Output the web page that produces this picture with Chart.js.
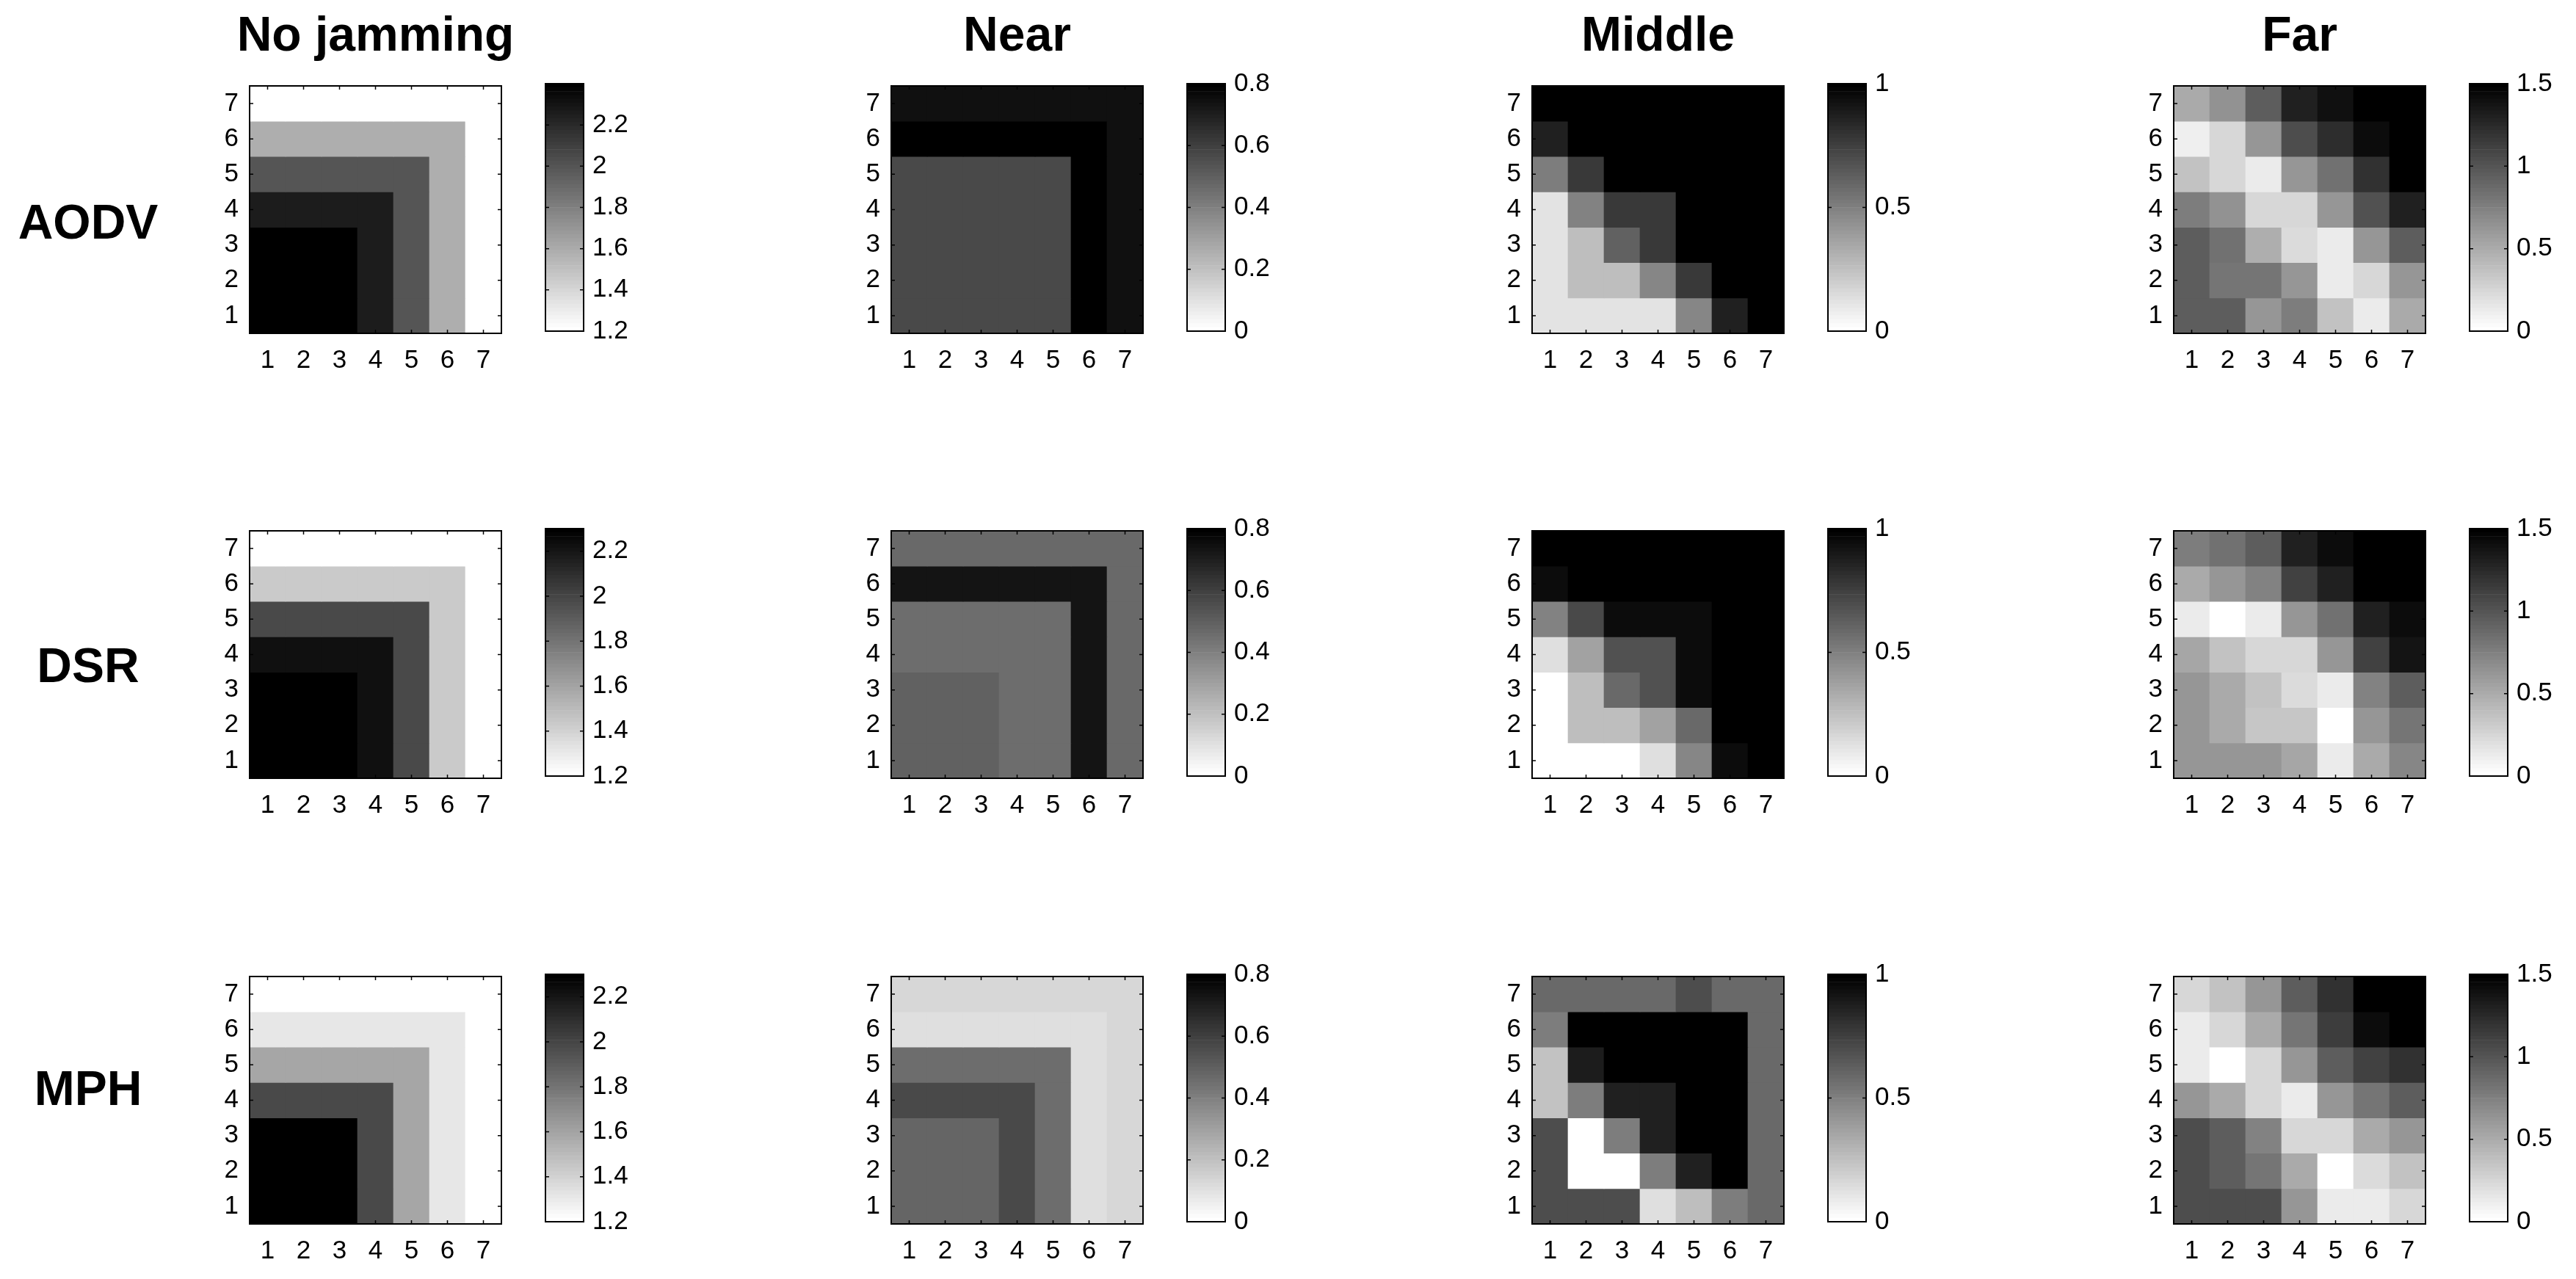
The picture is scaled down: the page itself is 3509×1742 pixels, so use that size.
<!DOCTYPE html>
<html>
<head>
<meta charset="utf-8">
<title>Jamming heatmaps</title>
<script src="https://cdn.jsdelivr.net/npm/chart.js@4.4.1/dist/chart.umd.min.js"></script>
<style>
  body { margin: 0; background: #fff; font-family: "Liberation Sans", Arial, sans-serif; }
  #page { position: relative; width: 3509px; height: 1742px; overflow: hidden; background: #fff; }
  canvas { position: absolute; }
  .title, .rowlabel { position: absolute; font-weight: bold; font-size: 66px; line-height: 1; color: #000; white-space: nowrap; }
  .title { transform: translateX(-50%); }
  .rowlabel { transform: translate(-50%, -50%); }
</style>
</head>
<body>
<div id="page"></div>
<script>
// labels
const columns = ['No jamming', 'Near', 'Middle', 'Far'];
const protocols = ['AODV', 'DSR', 'MPH'];
const cells = ['1', '2', '3', '4', '5', '6', '7'];
const yCells = [7, 6, 5, 4, 3, 2, 1]; // matrix rows below are listed top (7) to bottom (1)

// colorbar ticks per column
const noJamTicks = [1.2, 1.4, 1.6, 1.8, 2, 2.2];
const nearTicks = [0, 0.2, 0.4, 0.6, 0.8];
const middleTicks = [0, 0.5, 1];
const farTicks = [0, 0.5, 1, 1.5];

// colour limits [min, max]
const noJamLimits = [[1.2, 2.40], [1.2, 2.30], [1.2, 2.30]];
const nearLimits = [0, 0.8];
const middleLimits = [0, 1];
const farLimits = [0, 1.5];

// AODV
const aodvNoJam = [
    [1.20, 1.20, 1.20, 1.20, 1.20, 1.20, 1.20],
    [1.58, 1.58, 1.58, 1.58, 1.58, 1.58, 1.20],
    [2.00, 2.00, 2.00, 2.00, 2.00, 1.58, 1.20],
    [2.26, 2.26, 2.26, 2.26, 2.00, 1.58, 1.20],
    [2.40, 2.40, 2.40, 2.26, 2.00, 1.58, 1.20],
    [2.40, 2.40, 2.40, 2.26, 2.00, 1.58, 1.20],
    [2.40, 2.40, 2.40, 2.26, 2.00, 1.58, 1.20]
];
const aodvNear = [
    [0.74, 0.74, 0.74, 0.74, 0.74, 0.74, 0.74],
    [0.80, 0.80, 0.80, 0.80, 0.80, 0.80, 0.74],
    [0.57, 0.57, 0.57, 0.57, 0.57, 0.80, 0.74],
    [0.57, 0.57, 0.57, 0.57, 0.57, 0.80, 0.74],
    [0.57, 0.57, 0.57, 0.57, 0.57, 0.80, 0.74],
    [0.57, 0.57, 0.57, 0.57, 0.57, 0.80, 0.74],
    [0.57, 0.57, 0.57, 0.57, 0.57, 0.80, 0.74]
];
const aodvMiddle = [
    [1.00, 1.00, 1.00, 1.00, 1.00, 1.00, 1.00],
    [0.86, 1.00, 1.00, 1.00, 1.00, 1.00, 1.00],
    [0.50, 0.78, 1.00, 1.00, 1.00, 1.00, 1.00],
    [0.12, 0.49, 0.77, 0.77, 1.00, 1.00, 1.00],
    [0.12, 0.25, 0.61, 0.77, 1.00, 1.00, 1.00],
    [0.12, 0.25, 0.25, 0.48, 0.77, 1.00, 1.00],
    [0.12, 0.12, 0.12, 0.12, 0.48, 0.86, 1.00]
];
const aodvFar = [
    [0.51, 0.65, 0.96, 1.29, 1.39, 1.48, 1.48],
    [0.11, 0.24, 0.62, 1.04, 1.22, 1.42, 1.50],
    [0.37, 0.24, 0.12, 0.62, 0.84, 1.21, 1.50],
    [0.75, 0.65, 0.24, 0.24, 0.62, 1.03, 1.29],
    [0.96, 0.84, 0.49, 0.22, 0.12, 0.62, 0.94],
    [0.96, 0.82, 0.82, 0.62, 0.12, 0.24, 0.62],
    [0.96, 0.96, 0.62, 0.75, 0.37, 0.12, 0.51]
];

// DSR
const dsrNoJam = [
    [1.20, 1.20, 1.20, 1.20, 1.20, 1.20, 1.20],
    [1.44, 1.44, 1.44, 1.44, 1.44, 1.44, 1.20],
    [1.99, 1.99, 1.99, 1.99, 1.99, 1.44, 1.20],
    [2.22, 2.22, 2.22, 2.22, 1.99, 1.44, 1.20],
    [2.30, 2.30, 2.30, 2.22, 1.99, 1.44, 1.20],
    [2.30, 2.30, 2.30, 2.22, 1.99, 1.44, 1.20],
    [2.30, 2.30, 2.30, 2.22, 1.99, 1.44, 1.20]
];
const dsrNear = [
    [0.47, 0.47, 0.47, 0.47, 0.47, 0.47, 0.47],
    [0.73, 0.73, 0.73, 0.73, 0.73, 0.73, 0.47],
    [0.45, 0.45, 0.45, 0.45, 0.45, 0.73, 0.47],
    [0.45, 0.45, 0.45, 0.45, 0.45, 0.73, 0.47],
    [0.49, 0.49, 0.49, 0.45, 0.45, 0.73, 0.47],
    [0.49, 0.49, 0.49, 0.45, 0.45, 0.73, 0.47],
    [0.49, 0.49, 0.49, 0.45, 0.45, 0.73, 0.47]
];
const dsrMiddle = [
    [1.00, 1.00, 1.00, 1.00, 1.00, 1.00, 1.00],
    [0.94, 1.00, 1.00, 1.00, 1.00, 1.00, 1.00],
    [0.49, 0.71, 0.94, 0.94, 0.94, 1.00, 1.00],
    [0.13, 0.37, 0.68, 0.68, 0.94, 1.00, 1.00],
    [0.00, 0.25, 0.58, 0.68, 0.94, 1.00, 1.00],
    [0.00, 0.25, 0.25, 0.37, 0.59, 1.00, 1.00],
    [0.00, 0.00, 0.00, 0.13, 0.47, 0.94, 1.00]
];
const dsrFar = [
    [0.75, 0.84, 0.96, 1.29, 1.41, 1.50, 1.50],
    [0.50, 0.63, 0.74, 1.12, 1.29, 1.50, 1.50],
    [0.12, 0.00, 0.12, 0.62, 0.84, 1.29, 1.41],
    [0.53, 0.37, 0.24, 0.24, 0.62, 1.12, 1.37],
    [0.61, 0.51, 0.37, 0.22, 0.12, 0.74, 0.96],
    [0.61, 0.50, 0.35, 0.35, 0.00, 0.62, 0.81],
    [0.62, 0.62, 0.62, 0.53, 0.14, 0.50, 0.71]
];

// MPH
const mphNoJam = [
    [1.20, 1.20, 1.20, 1.20, 1.20, 1.20, 1.20],
    [1.32, 1.32, 1.32, 1.32, 1.32, 1.32, 1.20],
    [1.58, 1.58, 1.58, 1.58, 1.58, 1.32, 1.20],
    [1.99, 1.99, 1.99, 1.99, 1.58, 1.32, 1.20],
    [2.30, 2.30, 2.30, 1.99, 1.58, 1.32, 1.20],
    [2.30, 2.30, 2.30, 1.99, 1.58, 1.32, 1.20],
    [2.30, 2.30, 2.30, 1.99, 1.58, 1.32, 1.20]
];
const mphNear = [
    [0.13, 0.13, 0.13, 0.13, 0.13, 0.13, 0.13],
    [0.10, 0.10, 0.10, 0.10, 0.10, 0.10, 0.13],
    [0.46, 0.46, 0.46, 0.46, 0.46, 0.10, 0.13],
    [0.57, 0.57, 0.57, 0.57, 0.46, 0.10, 0.13],
    [0.48, 0.48, 0.48, 0.57, 0.46, 0.10, 0.13],
    [0.48, 0.48, 0.48, 0.57, 0.46, 0.10, 0.13],
    [0.48, 0.48, 0.48, 0.57, 0.46, 0.10, 0.13]
];
const mphMiddle = [
    [0.59, 0.59, 0.59, 0.59, 0.69, 0.59, 0.59],
    [0.51, 1.00, 1.00, 1.00, 1.00, 1.00, 0.59],
    [0.24, 0.88, 1.00, 1.00, 1.00, 1.00, 0.59],
    [0.24, 0.50, 0.86, 0.86, 1.00, 1.00, 0.59],
    [0.69, 0.00, 0.50, 0.86, 1.00, 1.00, 0.59],
    [0.69, 0.00, 0.00, 0.50, 0.86, 1.00, 0.59],
    [0.69, 0.69, 0.69, 0.13, 0.25, 0.50, 0.59]
];
const mphFar = [
    [0.24, 0.37, 0.62, 0.94, 1.21, 1.49, 1.49],
    [0.12, 0.24, 0.50, 0.81, 1.14, 1.41, 1.50],
    [0.12, 0.00, 0.24, 0.62, 0.94, 1.12, 1.21],
    [0.62, 0.51, 0.24, 0.12, 0.62, 0.81, 0.94],
    [1.04, 0.94, 0.74, 0.24, 0.24, 0.51, 0.62],
    [1.04, 0.94, 0.82, 0.51, 0.00, 0.22, 0.37],
    [1.04, 1.04, 1.04, 0.62, 0.12, 0.12, 0.24]
];

// layout (page pixels)
const colLeft = [340, 1214, 2087, 2961];
const rowTop = [111, 717, 1324];
const HM = 343;        // heatmap plot size
const CB_OFF = 403;    // colorbar left, relative to heatmap left
const CB_W = 52;
const tickFont = { family: '"Liberation Sans", Arial, sans-serif', size: 35 };

// flipped gray colormap, 64 levels like MATLAB
function grayFor(v, lo, hi) {
    let t = (v - lo) / (hi - lo);
    t = Math.min(1, Math.max(0, t));
    const idx = Math.min(63, Math.floor(t * 64));
    const g = Math.round(255 * (1 - idx / 63));
    return `rgb(${g},${g},${g})`;
}

// box with inward ticks on every side
const framePlugin = {
    id: 'frame',
    afterDraw(chart, args, opts) {
        const ctx = chart.ctx;
        const a = chart.chartArea;
        const len = 5;
        ctx.save();
        ctx.strokeStyle = '#000';
        ctx.lineWidth = 1.5;
        ctx.beginPath();
        if (opts.xTicks) {
            const xs = chart.scales.x;
            xs.ticks.forEach((t, i) => {
                const px = xs.getPixelForTick(i);
                ctx.moveTo(px, a.bottom); ctx.lineTo(px, a.bottom - len);
                ctx.moveTo(px, a.top); ctx.lineTo(px, a.top + len);
            });
        }
        const ys = chart.scales.y;
        ys.ticks.forEach(t => {
            const py = ys.getPixelForValue(t.value);
            ctx.moveTo(a.left, py); ctx.lineTo(a.left + len, py);
            ctx.moveTo(a.right, py); ctx.lineTo(a.right - len, py);
        });
        ctx.stroke();
        ctx.lineWidth = 2;
        ctx.strokeRect(a.left, a.top, a.right - a.left, a.bottom - a.top);
        ctx.restore();
    }
};

const page = document.getElementById('page');

function addCanvas(left, top, w, h) {
    const c = document.createElement('canvas');
    c.width = w; c.height = h;
    c.style.left = left + 'px';
    c.style.top = top + 'px';
    c.style.width = w + 'px';
    c.style.height = h + 'px';
    page.appendChild(c);
    return c;
}

function drawHeatmap(left, top, matrix, lo, hi) {
    const YW = 80, XH = 80, PAD = 30;
    const canvas = addCanvas(left - YW, top - PAD, YW + HM + PAD, PAD + HM + XH);
    const datasets = matrix.map((row, r) => {
        const yv = yCells[r];
        return {
            data: row.map(() => [yv - 0.5, yv + 0.5]),
            backgroundColor: row.map(v => grayFor(v, lo, hi)),
            borderWidth: 0,
            barPercentage: 1,
            categoryPercentage: 1,
            grouped: false
        };
    });
    new Chart(canvas, {
        type: 'bar',
        data: { labels: cells, datasets: datasets },
        options: {
            responsive: false,
            animation: false,
            layout: { padding: { top: PAD, right: PAD, left: 0, bottom: 0 } },
            plugins: { legend: { display: false }, tooltip: { enabled: false }, frame: { xTicks: true } },
            scales: {
                x: {
                    grid: { display: false, drawTicks: false },
                    border: { display: false },
                    ticks: { font: tickFont, color: '#000', padding: 16, maxRotation: 0, autoSkip: false },
                    afterFit: s => { s.height = XH; }
                },
                y: {
                    type: 'linear',
                    min: 0.5,
                    max: 7.5,
                    grid: { display: false, drawTicks: false },
                    border: { display: false },
                    afterBuildTicks: s => { s.ticks = yCells.map(v => ({ value: v })); },
                    ticks: { font: tickFont, color: '#000', padding: 15, callback: v => String(v) },
                    afterFit: s => { s.width = YW; }
                }
            }
        },
        plugins: [framePlugin]
    });
}

function drawColorbar(left, top, lo, hi, ticks) {
    const PAD = 30, AW = 130;
    const canvas = addCanvas(left - PAD, top - PAD, PAD + CB_W + AW, PAD + HM + PAD);
    const datasets = [];
    for (let k = 0; k < 64; k++) {
        const g = Math.round(255 * (1 - k / 63));
        datasets.push({
            data: [[lo + (hi - lo) * k / 64, lo + (hi - lo) * (k + 1) / 64]],
            backgroundColor: `rgb(${g},${g},${g})`,
            borderWidth: 0,
            barPercentage: 1,
            categoryPercentage: 1,
            grouped: false
        });
    }
    new Chart(canvas, {
        type: 'bar',
        data: { labels: [''], datasets: datasets },
        options: {
            responsive: false,
            animation: false,
            layout: { padding: { top: PAD, left: PAD, bottom: PAD, right: 0 } },
            plugins: { legend: { display: false }, tooltip: { enabled: false }, frame: { xTicks: false } },
            scales: {
                x: { display: false },
                y: {
                    position: 'right',
                    min: lo,
                    max: hi,
                    grid: { display: false, drawTicks: false },
                    border: { display: false },
                    afterBuildTicks: s => { s.ticks = ticks.map(v => ({ value: v })); },
                    ticks: { font: tickFont, color: '#000', padding: 12, callback: v => String(v) },
                    afterFit: s => { s.width = AW; }
                }
            }
        },
        plugins: [framePlugin]
    });
}

const grid = [
    [aodvNoJam, aodvNear, aodvMiddle, aodvFar],
    [dsrNoJam, dsrNear, dsrMiddle, dsrFar],
    [mphNoJam, mphNear, mphMiddle, mphFar]
];
const colTicks = [noJamTicks, nearTicks, middleTicks, farTicks];

protocols.forEach((p, r) => {
    const colLimits = [noJamLimits[r], nearLimits, middleLimits, farLimits];
    grid[r].forEach((m, c) => {
        const [lo, hi] = colLimits[c];
        drawHeatmap(colLeft[c], rowTop[r], m, lo, hi);
        drawColorbar(colLeft[c] + CB_OFF, rowTop[r], lo, hi, colTicks[c]);
    });
});

// column titles
columns.forEach((name, c) => {
    const d = document.createElement('div');
    d.className = 'title';
    d.textContent = name;
    d.style.left = (colLeft[c] + HM / 2) + 'px';
    d.style.top = '13px';
    page.appendChild(d);
});

// row labels
const rowLabelY = [302, 906, 1482];
protocols.forEach((name, r) => {
    const d = document.createElement('div');
    d.className = 'rowlabel';
    d.textContent = name;
    d.style.left = '120px';
    d.style.top = rowLabelY[r] + 'px';
    page.appendChild(d);
});
</script>
</body>
</html>
